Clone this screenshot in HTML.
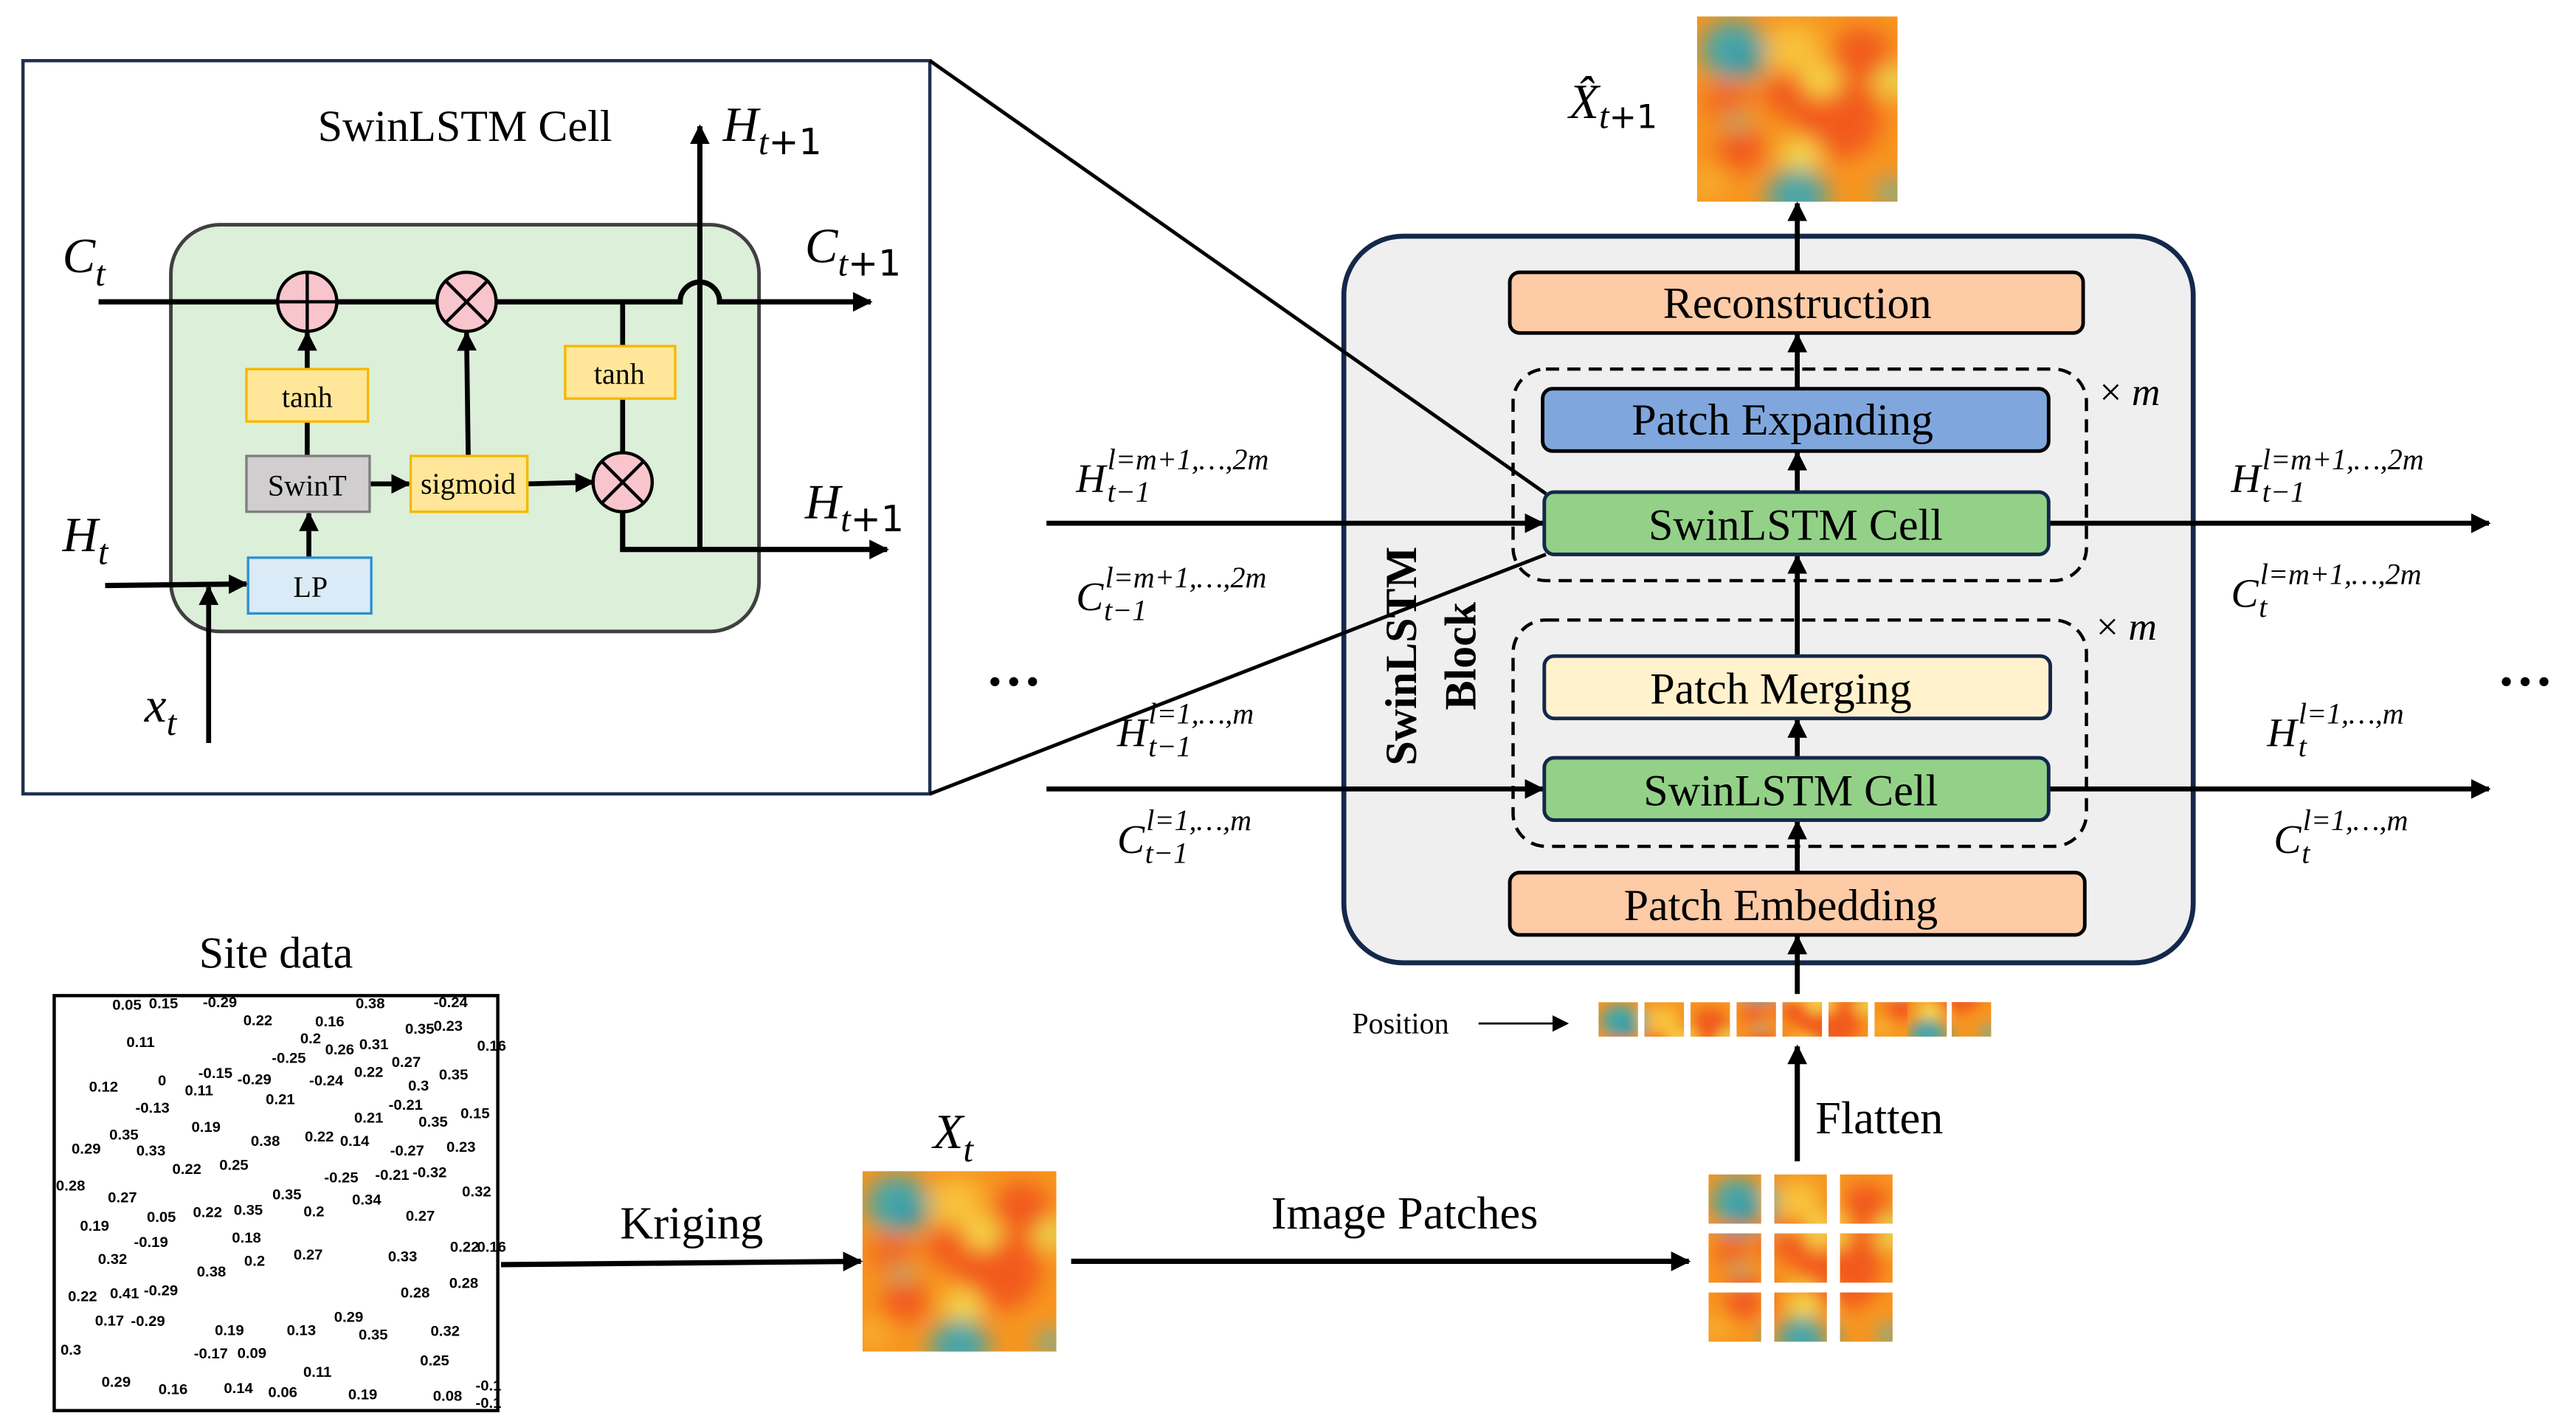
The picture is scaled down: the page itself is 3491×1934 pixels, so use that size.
<!DOCTYPE html>
<html><head><meta charset="utf-8">
<style>
html,body{margin:0;padding:0;background:#fff;}
svg{display:block;}
.ser{font-family:"Liberation Serif","Times New Roman",serif;}
.mi{font-family:"Liberation Serif","Times New Roman",serif;font-style:italic;}
.mn{font-family:"DejaVu Sans","Liberation Sans",sans-serif;font-style:normal;}
</style></head><body>
<svg width="3491" height="1934" viewBox="0 0 1568 870" preserveAspectRatio="none" xmlns="http://www.w3.org/2000/svg">
<defs>
<marker id="ar" viewBox="0 0 10 10" refX="9" refY="5" markerWidth="12" markerHeight="12" markerUnits="userSpaceOnUse" orient="auto"><path d="M0,0 L10,5 L0,10 z" fill="#000"/></marker>
<marker id="ars" viewBox="0 0 10 10" refX="9" refY="5" markerWidth="10" markerHeight="10" markerUnits="userSpaceOnUse" orient="auto"><path d="M0,0 L10,5 L0,10 z" fill="#000"/></marker>
<filter id="bl" x="-20%" y="-20%" width="140%" height="140%"><feGaussianBlur stdDeviation="6"/></filter>
<clipPath id="c100"><rect x="0" y="0" width="100" height="100"/></clipPath>
<g id="hm">
 <g clip-path="url(#c100)">
 <rect x="0" y="0" width="100" height="100" fill="#f7951f"/>
 <g filter="url(#bl)">
  <circle cx="48" cy="18" r="14" fill="#f8c13a"/>
  <circle cx="70" cy="55" r="22" fill="#f25a1c"/>
  <circle cx="82" cy="20" r="14" fill="#f25a1c"/>
  <circle cx="45" cy="42" r="12" fill="#f25a1c"/>
  <circle cx="15" cy="45" r="12" fill="#f36a1e"/>
  <circle cx="22" cy="72" r="12" fill="#f25a1c"/>
  <circle cx="62" cy="35" r="9" fill="#f5d84a"/>
  <circle cx="98" cy="35" r="8" fill="#e8e055"/>
  <circle cx="52" cy="75" r="10" fill="#f5d84a"/>
  <circle cx="18" cy="18" r="16" fill="#4aa6a8"/>
  <circle cx="25" cy="25" r="8" fill="#2b98a6"/>
  <circle cx="50" cy="97" r="15" fill="#4aa6a8"/>
  <circle cx="20" cy="57" r="5" fill="#93b880"/>
  <circle cx="98" cy="95" r="8" fill="#7aae90"/>
  <circle cx="5" cy="90" r="8" fill="#f8b030"/>
 </g>
 </g>
</g>
</defs>

<rect x="14" y="37" width="552" height="447" fill="#fff" stroke="#1f3050" stroke-width="2"/>
<text x="283" y="86" class="ser" font-size="27" text-anchor="middle">SwinLSTM Cell</text>
<rect x="104" y="137" width="358" height="248" rx="30" fill="#dcefd9" stroke="#404040" stroke-width="2.2"/>

<path d="M60,184 L414,184 A12,12 0 0 1 438,184 L530,184" fill="none" stroke="#000" stroke-width="3.2" marker-end="url(#ar)"/>
<line x1="426" y1="335" x2="426" y2="77" stroke="#000" stroke-width="3.2" marker-end="url(#ar)"/>
<path d="M379,311 L379,335 L540,335" fill="none" stroke="#000" stroke-width="3.2" marker-end="url(#ar)"/>
<line x1="379" y1="184" x2="379" y2="211" stroke="#000" stroke-width="3"/>
<line x1="379" y1="243" x2="379" y2="277" stroke="#000" stroke-width="3"/>
<line x1="64" y1="357" x2="150" y2="356" stroke="#000" stroke-width="3.2" marker-end="url(#ar)"/>
<line x1="127" y1="453" x2="127" y2="358" stroke="#000" stroke-width="3" marker-end="url(#ar)"/>
<line x1="188" y1="340" x2="188" y2="313" stroke="#000" stroke-width="3" marker-end="url(#ar)"/>
<line x1="187" y1="278" x2="187" y2="257" stroke="#000" stroke-width="3"/>
<line x1="187" y1="225" x2="187" y2="203" stroke="#000" stroke-width="3" marker-end="url(#ar)"/>
<line x1="225" y1="295" x2="249" y2="295" stroke="#000" stroke-width="3" marker-end="url(#ar)"/>
<line x1="285" y1="278" x2="284" y2="203" stroke="#000" stroke-width="3" marker-end="url(#ar)"/>
<line x1="321" y1="295" x2="361" y2="294" stroke="#000" stroke-width="3" marker-end="url(#ar)"/>

<rect x="150" y="225" width="74" height="32" fill="#ffe699" stroke="#f5b800" stroke-width="1.5"/>
<text x="187" y="248" class="ser" font-size="18" text-anchor="middle">tanh</text>
<rect x="344" y="211" width="67" height="32" fill="#ffe699" stroke="#f5b800" stroke-width="1.5"/>
<text x="377" y="234" class="ser" font-size="18" text-anchor="middle">tanh</text>
<rect x="150" y="278" width="75" height="34" fill="#d0cece" stroke="#7f7f7f" stroke-width="1.5"/>
<text x="187" y="302" class="ser" font-size="18" text-anchor="middle">SwinT</text>
<rect x="250" y="278" width="71" height="34" fill="#ffe699" stroke="#f5b800" stroke-width="1.5"/>
<text x="285" y="301" class="ser" font-size="18" text-anchor="middle">sigmoid</text>
<rect x="151" y="340" width="75" height="34" fill="#dbeaf7" stroke="#2e8fd0" stroke-width="1.5"/>
<text x="189" y="364" class="ser" font-size="18" text-anchor="middle">LP</text>

<g stroke="#000" stroke-width="2">
<circle cx="187" cy="184" r="18" fill="#f9c5cc"/>
<line x1="169" y1="184" x2="205" y2="184"/><line x1="187" y1="166" x2="187" y2="202"/>
<circle cx="284" cy="184" r="18" fill="#f9c5cc"/>
<line x1="271" y1="171" x2="297" y2="197"/><line x1="297" y1="171" x2="271" y2="197"/>
<circle cx="379" cy="294" r="18" fill="#f9c5cc"/>
<line x1="366" y1="281" x2="392" y2="307"/><line x1="392" y1="281" x2="366" y2="307"/>
</g>

<text x="38" y="166" class="mi" font-size="30">C<tspan font-size="22" dy="8">t</tspan></text>
<text x="38" y="336" class="mi" font-size="30">H<tspan font-size="22" dy="8">t</tspan></text>
<text x="88" y="440" class="mi" font-size="30">x<tspan font-size="22" dy="8">t</tspan></text>
<text x="440" y="86" class="mi" font-size="30">H<tspan font-size="22" dy="8">t</tspan><tspan class="mn" font-size="22">+1</tspan></text>
<text x="490" y="160" class="mi" font-size="30">C<tspan font-size="22" dy="8">t</tspan><tspan class="mn" font-size="22">+1</tspan></text>
<text x="490" y="316" class="mi" font-size="30">H<tspan font-size="22" dy="8">t</tspan><tspan class="mn" font-size="22">+1</tspan></text>

<rect x="818" y="144" width="517" height="443" rx="36" fill="#efefef" stroke="#14284b" stroke-width="3"/>
<text transform="translate(862,400) rotate(-90)" class="ser" font-size="27" font-weight="bold" text-anchor="middle">SwinLSTM</text>
<text transform="translate(898,400) rotate(-90)" class="ser" font-size="27" font-weight="bold" text-anchor="middle">Block</text>

<rect x="921" y="225" width="349" height="129" rx="20" fill="none" stroke="#000" stroke-width="2" stroke-dasharray="8,5"/>
<rect x="921" y="378" width="349" height="138" rx="20" fill="none" stroke="#000" stroke-width="2" stroke-dasharray="8,5"/>

<line x1="637" y1="319" x2="939" y2="319" stroke="#000" stroke-width="3" marker-end="url(#ar)"/>
<line x1="1247" y1="319" x2="1515" y2="319" stroke="#000" stroke-width="3" marker-end="url(#ar)"/>
<line x1="637" y1="481" x2="939" y2="481" stroke="#000" stroke-width="3" marker-end="url(#ar)"/>
<line x1="1247" y1="481" x2="1515" y2="481" stroke="#000" stroke-width="3" marker-end="url(#ar)"/>

<g stroke="#000" stroke-width="3">
<line x1="1094" y1="606" x2="1094" y2="571" marker-end="url(#ar)"/>
<line x1="1094" y1="532" x2="1094" y2="501" marker-end="url(#ar)"/>
<line x1="1094" y1="462" x2="1094" y2="439" marker-end="url(#ar)"/>
<line x1="1094" y1="400" x2="1094" y2="339" marker-end="url(#ar)"/>
<line x1="1094" y1="300" x2="1094" y2="276" marker-end="url(#ar)"/>
<line x1="1094" y1="237" x2="1094" y2="204" marker-end="url(#ar)"/>
<line x1="1094" y1="166" x2="1094" y2="124" marker-end="url(#ar)"/>
</g>

<rect x="919" y="166" width="349" height="37" rx="6" fill="#fdcba6" stroke="#000" stroke-width="2.2"/>
<text x="1094" y="194" class="ser" font-size="27" text-anchor="middle">Reconstruction</text>
<rect x="939" y="237" width="308" height="38" rx="6" fill="#7fa7dd" stroke="#000" stroke-width="2.2"/>
<text x="1085" y="265" class="ser" font-size="27" text-anchor="middle">Patch Expanding</text>
<rect x="940" y="300" width="307" height="38" rx="6" fill="#93d188" stroke="#14284b" stroke-width="2.2"/>
<text x="1093" y="329" class="ser" font-size="27" text-anchor="middle">SwinLSTM Cell</text>
<rect x="940" y="400" width="308" height="38" rx="6" fill="#fff2cc" stroke="#14284b" stroke-width="2.2"/>
<text x="1084" y="429" class="ser" font-size="27" text-anchor="middle">Patch Merging</text>
<rect x="940" y="462" width="307" height="38" rx="6" fill="#93d188" stroke="#14284b" stroke-width="2.2"/>
<text x="1090" y="491" class="ser" font-size="27" text-anchor="middle">SwinLSTM Cell</text>
<rect x="919" y="532" width="350" height="38" rx="6" fill="#fdcba6" stroke="#000" stroke-width="2.2"/>
<text x="1084" y="561" class="ser" font-size="27" text-anchor="middle">Patch Embedding</text>

<text x="1278" y="247" class="mi" font-size="24"><tspan font-style="normal">×</tspan> m</text>
<text x="1276" y="390" class="mi" font-size="24"><tspan font-style="normal">×</tspan> m</text>

<line x1="566" y1="37" x2="941" y2="301" stroke="#000" stroke-width="2.2"/>
<line x1="566" y1="484" x2="941" y2="338" stroke="#000" stroke-width="2.2"/>

<g class="mi">
<text x="655" y="300" font-size="25">H<tspan font-size="18" dx="1" dy="-14">l=m+1,…,2m</tspan><tspan font-size="18" x="674" dy="20">t−1</tspan></text>
<text x="655" y="372" font-size="25">C<tspan font-size="18" dx="1" dy="-14">l=m+1,…,2m</tspan><tspan font-size="18" x="672" dy="20">t−1</tspan></text>
<text x="680" y="455" font-size="25">H<tspan font-size="18" dx="1" dy="-14">l=1,…,m</tspan><tspan font-size="18" x="699" dy="20">t−1</tspan></text>
<text x="680" y="520" font-size="25">C<tspan font-size="18" dx="1" dy="-14">l=1,…,m</tspan><tspan font-size="18" x="697" dy="20">t−1</tspan></text>
<text x="1358" y="300" font-size="25">H<tspan font-size="18" dx="1" dy="-14">l=m+1,…,2m</tspan><tspan font-size="18" x="1377" dy="20">t−1</tspan></text>
<text x="1358" y="370" font-size="25">C<tspan font-size="18" dx="1" dy="-14">l=m+1,…,2m</tspan><tspan font-size="18" x="1375" dy="20">t</tspan></text>
<text x="1380" y="455" font-size="25">H<tspan font-size="18" dx="1" dy="-14">l=1,…,m</tspan><tspan font-size="18" x="1399" dy="20">t</tspan></text>
<text x="1384" y="520" font-size="25">C<tspan font-size="18" dx="1" dy="-14">l=1,…,m</tspan><tspan font-size="18" x="1401" dy="20">t</tspan></text>
</g>
<text x="617" y="418" class="ser" font-size="34" font-weight="bold" text-anchor="middle">…</text>
<text x="1537" y="418" class="ser" font-size="34" font-weight="bold" text-anchor="middle">…</text>

<use href="#hm" transform="translate(1033,10) scale(1.22,1.13)"/>
<text x="955" y="72" class="mi" font-size="30">X̂<tspan font-size="22" dy="6">t</tspan><tspan class="mn" font-size="20">+1</tspan></text>

<text x="823" y="630" class="ser" font-size="18">Position</text>
<line x1="900" y1="624" x2="954" y2="624" stroke="#000" stroke-width="1.2" marker-end="url(#ars)"/>
<svg x="973" y="611" width="24" height="21" viewBox="0 0 33 33" preserveAspectRatio="none"><use href="#hm"/></svg>
<svg x="1001" y="611" width="24" height="21" viewBox="33 0 33 33" preserveAspectRatio="none"><use href="#hm"/></svg>
<svg x="1029" y="611" width="24" height="21" viewBox="66 0 33 33" preserveAspectRatio="none"><use href="#hm"/></svg>
<svg x="1057" y="611" width="24" height="21" viewBox="0 33 33 33" preserveAspectRatio="none"><use href="#hm"/></svg>
<svg x="1085" y="611" width="24" height="21" viewBox="33 33 33 33" preserveAspectRatio="none"><use href="#hm"/></svg>
<svg x="1113" y="611" width="24" height="21" viewBox="66 33 33 33" preserveAspectRatio="none"><use href="#hm"/></svg>
<svg x="1141" y="611" width="24" height="21" viewBox="0 66 33 33" preserveAspectRatio="none"><use href="#hm"/></svg>
<svg x="1161" y="611" width="24" height="21" viewBox="33 66 33 33" preserveAspectRatio="none"><use href="#hm"/></svg>
<svg x="1188" y="611" width="24" height="21" viewBox="66 66 33 33" preserveAspectRatio="none"><use href="#hm"/></svg>

<line x1="1094" y1="708" x2="1094" y2="638" stroke="#000" stroke-width="3.2" marker-end="url(#ar)"/>
<text x="1105" y="691" class="ser" font-size="28">Flatten</text>

<svg x="1040" y="716" width="32" height="30" viewBox="0 0 33 33" preserveAspectRatio="none"><use href="#hm"/></svg>
<svg x="1080" y="716" width="32" height="30" viewBox="33 0 33 33" preserveAspectRatio="none"><use href="#hm"/></svg>
<svg x="1120" y="716" width="32" height="30" viewBox="66 0 33 33" preserveAspectRatio="none"><use href="#hm"/></svg>
<svg x="1040" y="752" width="32" height="30" viewBox="0 33 33 33" preserveAspectRatio="none"><use href="#hm"/></svg>
<svg x="1080" y="752" width="32" height="30" viewBox="33 33 33 33" preserveAspectRatio="none"><use href="#hm"/></svg>
<svg x="1120" y="752" width="32" height="30" viewBox="66 33 33 33" preserveAspectRatio="none"><use href="#hm"/></svg>
<svg x="1040" y="788" width="32" height="30" viewBox="0 66 33 33" preserveAspectRatio="none"><use href="#hm"/></svg>
<svg x="1080" y="788" width="32" height="30" viewBox="33 66 33 33" preserveAspectRatio="none"><use href="#hm"/></svg>
<svg x="1120" y="788" width="32" height="30" viewBox="66 66 33 33" preserveAspectRatio="none"><use href="#hm"/></svg>

<line x1="652" y1="769" x2="1028" y2="769" stroke="#000" stroke-width="3.2" marker-end="url(#ar)"/>
<text x="855" y="749" class="ser" font-size="28" text-anchor="middle">Image Patches</text>

<use href="#hm" transform="translate(525,714) scale(1.18,1.10)"/>
<text x="568" y="700" class="mi" font-size="30">X<tspan font-size="22" dy="8">t</tspan></text>

<line x1="305" y1="771" x2="524" y2="769" stroke="#000" stroke-width="3.2" marker-end="url(#ar)"/>
<text x="421" y="755" class="ser" font-size="28" text-anchor="middle">Kriging</text>

<text x="168" y="590" class="ser" font-size="27" text-anchor="middle">Site data</text>
<rect x="33" y="607" width="270" height="253" fill="#fff" stroke="#000" stroke-width="2"/>
<g transform="translate(26.8,598.3) scale(0.1824,0.1722)" font-family="Liberation Sans Narrow,Liberation Sans,sans-serif" font-weight="bold" font-size="50">
<text x="228" y="100">0.05</text><text x="350" y="95">0.15</text><text x="530" y="92">-0.29</text><text x="1040" y="95">0.38</text><text x="1300" y="92">-0.24</text>
<text x="665" y="155">0.22</text><text x="905" y="160">0.16</text><text x="1205" y="185">0.35</text><text x="1300" y="175">0.23</text><text x="275" y="232">0.11</text>
<text x="855" y="220">0.2</text><text x="938" y="258">0.26</text><text x="1052" y="240">0.31</text><text x="1445" y="245">0.16</text><text x="760" y="288">-0.25</text>
<text x="1160" y="303">0.27</text><text x="515" y="342">-0.15</text><text x="645" y="365">-0.29</text><text x="885" y="368">-0.24</text><text x="1035" y="338">0.22</text>
<text x="1318" y="348">0.35</text><text x="150" y="390">0.12</text><text x="380" y="368">0</text><text x="470" y="403">0.11</text><text x="1215" y="387">0.3</text>
<text x="740" y="435">0.21</text><text x="305" y="465">-0.13</text><text x="1150" y="455">-0.21</text><text x="1035" y="500">0.21</text><text x="1250" y="515">0.35</text>
<text x="1390" y="485">0.15</text><text x="492" y="533">0.19</text><text x="218" y="560">0.35</text><text x="690" y="582">0.38</text><text x="870" y="567">0.22</text>
<text x="988" y="583">0.14</text><text x="92" y="610">0.29</text><text x="308" y="617">0.33</text><text x="1155" y="617">-0.27</text><text x="1343" y="603">0.23</text>
<text x="428" y="682">0.22</text><text x="585" y="667">0.25</text><text x="935" y="712">-0.25</text><text x="1105" y="703">-0.21</text><text x="1230" y="693">-0.32</text>
<text x="40" y="740">0.28</text><text x="762" y="772">0.35</text><text x="1028" y="790">0.34</text><text x="1395" y="762">0.32</text><text x="213" y="782">0.27</text>
<text x="497" y="835">0.22</text><text x="633" y="827">0.35</text><text x="866" y="832">0.2</text><text x="343" y="852">0.05</text><text x="1207" y="848">0.27</text>
<text x="120" y="883">0.19</text><text x="300" y="940">-0.19</text><text x="627" y="925">0.18</text><text x="1355" y="957">0.22</text><text x="1445" y="957">0.16</text>
<text x="180" y="1000">0.32</text><text x="833" y="985">0.27</text><text x="668" y="1007">0.2</text><text x="1148" y="992">0.33</text><text x="510" y="1045">0.38</text>
<text x="1352" y="1085">0.28</text><text x="80" y="1133">0.22</text><text x="220" y="1122">0.41</text><text x="333" y="1112">-0.29</text><text x="1190" y="1120">0.28</text>
<text x="968" y="1205">0.29</text><text x="170" y="1218">0.17</text><text x="290" y="1220">-0.29</text><text x="570" y="1252">0.19</text><text x="810" y="1252">0.13</text>
<text x="1050" y="1268">0.35</text><text x="1290" y="1255">0.32</text><text x="55" y="1322">0.3</text><text x="500" y="1335">-0.17</text><text x="645" y="1333">0.09</text>
<text x="1255" y="1360">0.25</text><text x="865" y="1400">0.11</text><text x="192" y="1435">0.29</text><text x="382" y="1462">0.16</text><text x="600" y="1458">0.14</text>
<text x="748" y="1472">0.06</text><text x="1015" y="1480">0.19</text><text x="1298" y="1485">0.08</text><text x="1440" y="1448">-0.1</text><text x="1440" y="1510">-0.1</text>
</g>
</svg>
</body></html>
